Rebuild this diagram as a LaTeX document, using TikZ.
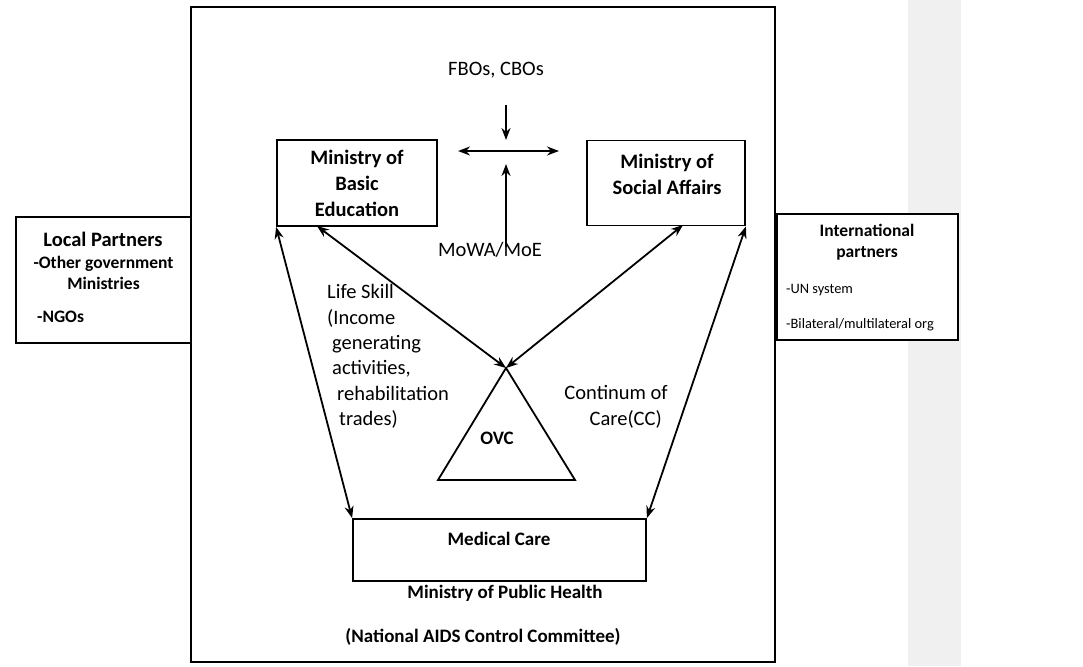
\documentclass[tikz,border=0pt]{standalone}
\usepackage{fontspec}
\setmainfont{Carlito}
\usetikzlibrary{arrows.meta}
\tikzset{
mybox/.style={draw, line width=1.8pt, fill=white, inner sep=0pt},
mytxt/.style={inner sep=0pt, align=center},
myarrow/.style={line width=1.8pt, -{Stealth[length=12pt,width=9pt]}},
mydblarrow/.style={line width=1.8pt, {Stealth[length=12pt,width=9pt]}-{Stealth[length=12pt,width=9pt]}},
}
\definecolor{CgrA}{rgb}{0.94,0.94,0.94}

\begin{document}
\begin{tikzpicture}[x=1pt,y=-1pt]
\begin{scope}

%% Definitions
\newcommand\txtB{\bfseries\fontsize{20.5}{26}\selectfont}
\newcommand\txtM{\bfseries\fontsize{19}{21}\selectfont}
\newcommand\txtP{\bfseries\fontsize{17.5}{21}\selectfont}
\newcommand\txtR{\fontsize{20.5}{25.4}\selectfont}
\newcommand\txtS{\fontsize{14.4}{17}\selectfont}

\useasboundingbox (0,0) rectangle (1083,666);

%% grey strip
\fill[CgrA] (908,0) rectangle (961,666);

% --------------------------------------------------------

%% outer box
\node[mybox, line width=2pt, minimum width=584, minimum height=655] (nacc) at (483,334.5) {};

%% Local partners
\node[mybox, minimum width=175, minimum height=126] (lp) at (103.5,280) {};
\node[mytxt, font=\txtB] (lpA) at (103,239) {Local Partners};
\node[mytxt, font=\txtP] (lpB) at (103.5,272.5) {-Other government\\Ministries};
\node[mytxt, font=\txtP, anchor=west] (lpC) at (37,317) {-NGOs};

%% International partners
\node[mybox, minimum width=181, minimum height=126] (ip) at (867.5,277) {};
\node[mytxt, font=\txtP] (ipA) at (867,242.5) {International\\partners};
\node[mytxt, font=\txtS, anchor=west] (ipB) at (786,290) {-UN system};
\node[mytxt, font=\txtS, anchor=west] (ipC) at (786,325) {-Bilateral/multilateral org};

% --------------------------------------------------------

%% Ministries
\node[mybox, mytxt, font=\txtB, minimum width=160, minimum height=86] (mbe) at (357,183) {Ministry of\\Basic\\Education};
\node[mybox, minimum width=158, minimum height=85] (msa) at (666,183) {};
\node[mytxt, font=\txtB] (msat) at (667,174.5) {Ministry of\\Social Affairs};

%% FBOs, CBOs - MoWA/MoE
\node[mytxt, font=\txtR] (fbo) at (496,70) {FBOs, CBOs};
\node[mytxt, font=\txtR] (mowa) at (490,250) {MoWA/MoE};

\coordinate (fboD) at (506,105);
\coordinate (crossN) at (506,140);
\coordinate (crossW) at (458,151);
\coordinate (crossE) at (559,151);
\coordinate (crossS) at (506,164);
\coordinate (mowaT) at (506,247);

\draw[myarrow] (fboD) -- (crossN);
\draw[mydblarrow] (crossW) -- (crossE);
\draw[myarrow] (mowaT) -- (crossS);

% --------------------------------------------------------

%% OVC
\coordinate (ovcT) at (506,368);
\coordinate (ovcR) at (575,480);
\coordinate (ovcL) at (438,480);
\draw[line width=1.8pt] (ovcT) -- (ovcR) -- (ovcL) -- cycle;
\node[mytxt, font=\txtM] (ovc) at (497,438) {OVC};

%% side labels
\node[inner sep=0pt, align=left, font=\txtR, anchor=west] (lsk) at (327,356.5) {Life Skill\\(Income\\\hspace*{5pt}generating\\\hspace*{5pt}activities,\\\hspace*{10pt}rehabilitation\\\hspace*{12pt}trades)};
\node[inner sep=0pt, align=right, font=\txtR, anchor=east] (coc) at (668,407) {Continum of\\Care(CC)\hspace*{6pt}};

%% Medical care
\node[mybox, minimum width=293, minimum height=62] (med) at (499.5,550) {};
\node[mytxt, font=\txtM] (medt) at (499,539) {Medical Care};
\node[mytxt, font=\txtM] (mph) at (505,593) {Ministry of Public Health};
\node[mytxt, font=\txtM] (nac) at (483,637) {(National AIDS Control Committee)};

%% connectors
\coordinate (mbeB) at (317,226);
\coordinate (msaB) at (683,225);
\draw[mydblarrow] (mbeB) -- (ovcT);
\draw[mydblarrow] (msaB) -- (ovcT);
\draw[mydblarrow] (mbe.south west) -- (med.north west);
\draw[mydblarrow] (msa.south east) -- (med.north east);

\end{scope}
\end{tikzpicture}
\end{document}
